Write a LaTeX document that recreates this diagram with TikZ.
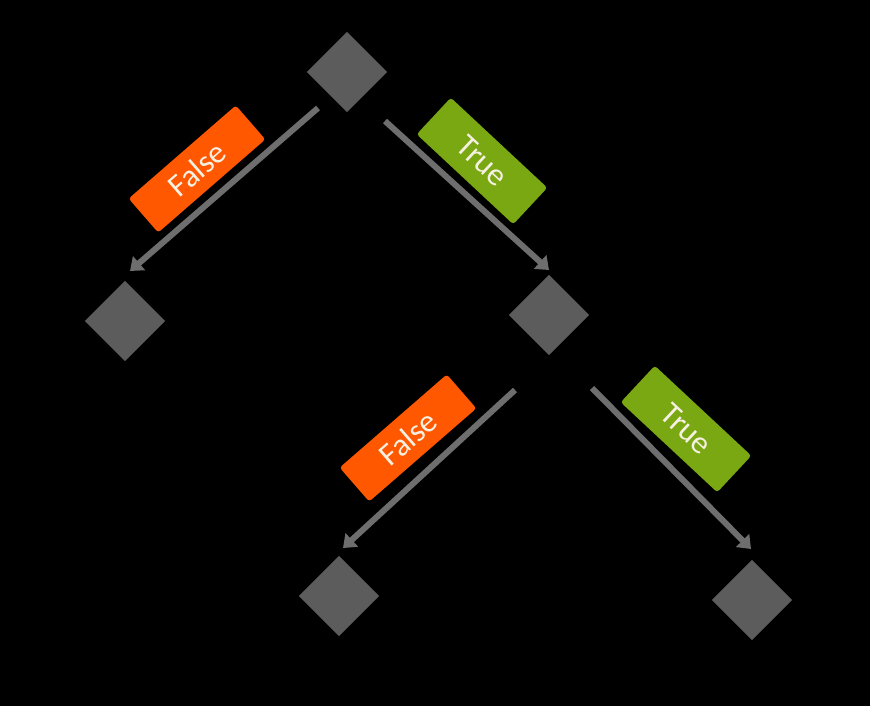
\documentclass[tikz,border=0pt]{standalone}
\usepackage{fontspec}
\setmainfont{Carlito}
\usetikzlibrary{arrows.meta}
\definecolor{boxgray}{RGB}{92,92,92}
\definecolor{arrgray}{RGB}{110,110,110}
\definecolor{falseorange}{RGB}{255,88,0}
\definecolor{truegreen}{RGB}{122,168,18}
\definecolor{labeltext}{RGB}{245,240,225}
\tikzset{
  decision/.style={rectangle, fill=boxgray, minimum size=56.6pt, inner sep=0pt, rotate=45},
  branch/.style={draw=arrgray, line width=6pt, -{Triangle[length=12pt,width=18pt]}},
  lbl/.style={rectangle, rounded corners=3pt, minimum width=142pt, minimum height=45pt,
    inner sep=0pt, text=labeltext, font=\fontsize{32}{32}\selectfont},
  falselbl/.style={lbl, fill=falseorange, rotate=41},
  truelbl/.style={lbl, fill=truegreen, rotate=-43, minimum width=132pt, minimum height=50pt}
}
\begin{document}
\begin{tikzpicture}[x=1pt,y=-1pt]
\useasboundingbox[fill=black] (0,0) rectangle (870,706);
% decision nodes
\node[decision] (top) at (347,72) {};
\node[decision] (left) at (125,321) {};
\node[decision] (mid) at (549,315) {};
\node[decision] (bl) at (339,596) {};
\node[decision] (br) at (752,600) {};
% connector end points
\coordinate (a1s) at (318,108);
\coordinate (a1e) at (130,271);
\coordinate (a2s) at (385,121);
\coordinate (a2e) at (549,270);
\coordinate (a3s) at (515,390);
\coordinate (a3e) at (343,548);
\coordinate (a4s) at (592,388);
\coordinate (a4e) at (751,549);
% connectors
\draw[branch] (a1s) -- (a1e);
\draw[branch] (a2s) -- (a2e);
\draw[branch] (a3s) -- (a3e);
\draw[branch] (a4s) -- (a4e);
% labels
\node[falselbl] (f1) at (197,169) {False};
\node[truelbl] (t1) at (482,161) {True};
\node[falselbl] (f2) at (408,438) {False};
\node[truelbl] (t2) at (686,429) {True};
\end{tikzpicture}
\end{document}
